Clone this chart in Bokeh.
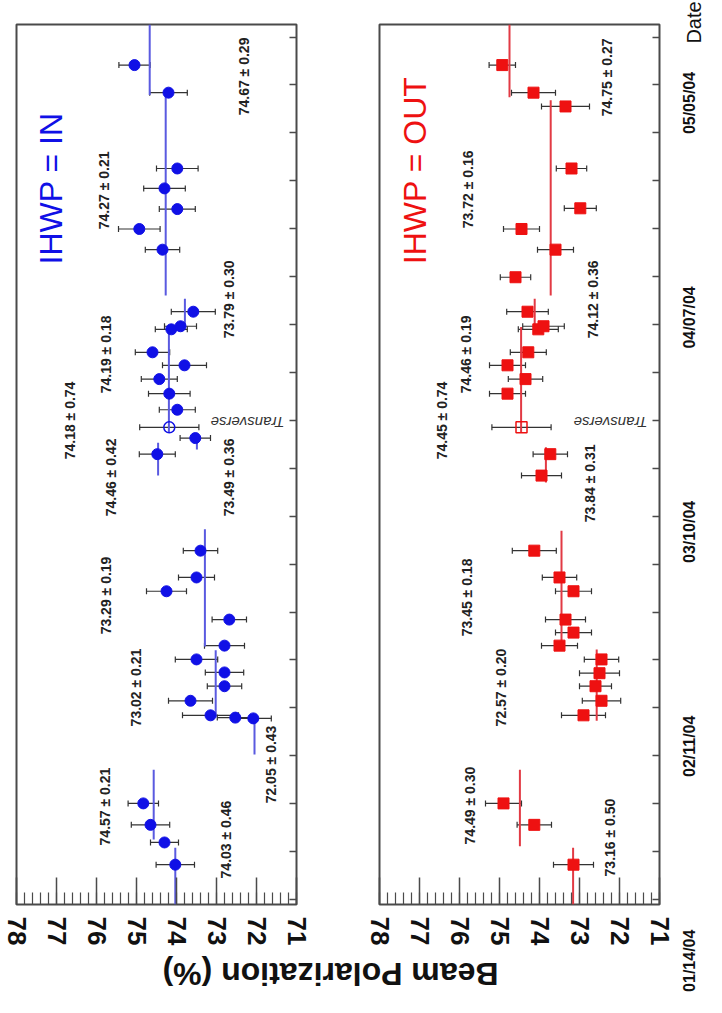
import numpy as np
import pandas as pd
from bokeh.plotting import figure
from bokeh.models import (Range1d, LinearAxis, SingleIntervalTicker, FixedTicker,
                          ColumnDataSource, Whisker, TeeHead, CustomJSTickFormatter)
from bokeh.layouts import row, column
from bokeh.embed import file_html
from bokeh.resources import INLINE
from bokeh.core.properties import value

# ---------------- data ----------------
date_labels = ["01/14/04", "02/11/04", "03/10/04", "04/07/04", "05/05/04"]
origin = "2004-01-14"

# IHWP = IN : day (days since 01/14/04), beam polarization (%), error (%)
in_day = [13.2, 16.1, 18.4, 21.2, 32.3, 32.4, 32.7, 34.6, 36.5, 38.3, 40.0, 41.8,
          45.2, 48.9, 50.7, 54.2, 66.8, 68.9, 72.6, 74.7, 76.6, 78.4, 80.1, 83.1,
          83.5, 85.4, 93.5, 96.2, 98.8, 101.5, 104.1, 114.0, 117.6]
in_pol = [74.03, 74.30, 74.65, 74.83, 72.08, 72.53, 73.15, 73.65, 72.80, 72.80, 73.50, 72.80,
          72.68, 74.25, 73.50, 73.40, 74.48, 73.53, 73.98, 74.18, 74.43, 73.80, 74.60, 74.13,
          73.90, 73.58, 74.35, 74.93, 73.98, 74.30, 73.98, 74.20, 75.05]
in_err = [0.48, 0.35, 0.48, 0.38, 0.45, 0.45, 0.70, 0.55, 0.43, 0.48, 0.53, 0.50,
          0.43, 0.50, 0.45, 0.43, 0.45, 0.38, 0.45, 0.52, 0.45, 0.55, 0.43, 0.40,
          0.40, 0.55, 0.43, 0.52, 0.45, 0.52, 0.52, 0.47, 0.39]
in_tr_day = [70.3]
in_tr_pol = [74.18]
in_tr_err = [0.74]
in_fit_mean = [74.03, 74.57, 72.05, 73.02, 73.29, 74.46, 73.49, 74.19, 73.79, 74.27, 74.67]
in_fit_err = [0.46, 0.21, 0.43, 0.21, 0.19, 0.42, 0.36, 0.18, 0.30, 0.21, 0.29]
in_fit_start = [8.0, 16.5, 27.6, 32.4, 41.7, 64.0, 67.4, 69.6, 83.4, 87.5, 113.7]
in_fit_end = [15.4, 25.6, 32.4, 41.2, 57.0, 68.3, 69.6, 83.4, 87.1, 113.7, 122.9]

# IHWP = OUT
out_day = [13.2, 18.4, 21.2, 32.7, 34.6, 36.5, 38.2, 40.0, 41.8, 43.5, 45.2, 48.9,
           50.7, 54.2, 64.0, 66.8, 74.7, 76.6, 78.4, 80.1, 83.1, 83.5, 85.4, 89.9,
           93.5, 96.2, 98.9, 104.1, 112.2, 114.0, 117.6]
out_pol = [73.15, 74.13, 74.90, 72.90, 72.45, 72.60, 72.50, 72.45, 73.50, 73.15, 73.35, 73.15,
           73.50, 74.13, 73.95, 73.73, 74.80, 74.35, 74.80, 74.28, 74.03, 73.90, 74.30, 74.60,
           73.60, 74.45, 72.98, 73.20, 73.35, 74.15, 74.93]
out_err = [0.50, 0.43, 0.45, 0.55, 0.48, 0.40, 0.50, 0.43, 0.45, 0.45, 0.50, 0.45,
           0.43, 0.55, 0.50, 0.43, 0.45, 0.43, 0.45, 0.45, 0.50, 0.52, 0.52, 0.38,
           0.45, 0.45, 0.40, 0.38, 0.60, 0.55, 0.33]
out_tr_day = [70.3]
out_tr_pol = [74.45]
out_tr_err = [0.74]
out_fit_mean = [73.16, 74.49, 72.57, 73.45, 73.84, 74.46, 74.12, 73.72, 74.75]
out_fit_err = [0.50, 0.30, 0.20, 0.18, 0.31, 0.19, 0.36, 0.16, 0.27]
out_fit_start = [8.0, 15.6, 32.0, 41.6, 63.1, 69.6, 83.4, 87.5, 113.4]
out_fit_end = [15.4, 25.6, 41.3, 56.8, 67.7, 83.4, 87.1, 113.0, 122.9]

# annotation positions (polarization, day) -- layout only
in_lab_x = [72.775, 75.80, 71.65, 75.025, 75.775, 75.65, 72.70, 75.775, 72.70, 75.825, 72.325]
in_lab_y = [16.48, 20.79, 26.28, 36.33, 48.35, 63.76, 63.76, 79.82, 87.01, 101.24, 116.12]
in_tr_lab = (76.675, 71.2)
out_lab_x = [72.25, 75.75, 74.975, 75.825, 72.75, 75.85, 72.675, 75.80, 72.325]
out_lab_y = [16.74, 20.92, 36.33, 48.09, 62.99, 79.82, 87.01, 101.37, 116.0]
out_tr_lab = (76.45, 71.2)

# ---------------- layout constants ----------------
D_LO, D_HI = 8.0, 122.9
FRAME_W, FRAME_H = 280, 880
TOP, PANEL_H, STRIP_H = 24, 955, 37
DATE_W = 30
FONT = "Liberation Sans"
FRAME_COL = "#4a4a4a"
tick_days = list(8.65 + 6.256 * np.arange(19))


def fmt(m, e):
    return f"{m:.2f} \u00b1 {e:.2f}"


def no_grid(f):
    f.xgrid.visible = False
    f.ygrid.visible = False


def bare_fig(width, height, xr, yr):
    f = figure(width=width, height=height, x_range=xr, y_range=yr,
               output_backend="svg", toolbar_location=None, x_axis_location=None,
               y_axis_location=None, title=None, min_border=0,
               min_border_left=0, min_border_right=0, min_border_top=0,
               min_border_bottom=0)
    f.outline_line_color = None
    no_grid(f)
    return f


def make_panel(width, bl, br, day, pol, err, tr_day, tr_pol, tr_err,
               fm, fe, fs, fend, lab_x, lab_y, tr_lab, color, line_color,
               marker, title, title_pos):
    p = figure(width=width, height=PANEL_H, x_range=Range1d(78, 71),
               y_range=Range1d(D_LO, D_HI), output_backend="svg",
               toolbar_location=None, x_axis_location=None, y_axis_location=None,
               title=None, min_border_left=bl, min_border_right=br,
               min_border_top=TOP, min_border_bottom=PANEL_H - TOP - FRAME_H)
    no_grid(p)
    p.outline_line_color = FRAME_COL
    p.outline_line_width = 2

    xa = LinearAxis(ticker=SingleIntervalTicker(interval=1, num_minor_ticks=5))
    xa.major_label_orientation = "vertical"
    xa.major_tick_in = 27
    xa.major_tick_out = 0
    xa.minor_tick_in = 12
    xa.minor_tick_out = 0
    xa.major_label_standoff = 12
    xa.axis_line_color = None
    xa.major_tick_line_color = FRAME_COL
    xa.minor_tick_line_color = FRAME_COL
    xa.major_tick_line_width = 1.5
    xa.minor_tick_line_width = 1.2
    xa.major_label_text_font = FONT
    xa.major_label_text_font_style = "bold"
    xa.major_label_text_font_size = "26px"
    xa.major_label_text_color = "#111111"
    p.add_layout(xa, "below")

    ya = LinearAxis(ticker=FixedTicker(ticks=tick_days),
                    formatter=CustomJSTickFormatter(code="return ''"))
    ya.major_tick_in = 7
    ya.major_tick_out = 0
    ya.minor_tick_line_color = None
    ya.axis_line_color = None
    ya.major_tick_line_color = FRAME_COL
    ya.major_tick_line_width = 1.5
    ya.major_label_standoff = 0
    p.add_layout(ya, "right")

    fsrc = ColumnDataSource(dict(m=fm, s=fs, e=fend))
    p.segment(x0="m", y0="s", x1="m", y1="e", source=fsrc,
              line_color=line_color, line_width=2)

    pol_a = np.array(pol); err_a = np.array(err)
    src = ColumnDataSource(dict(d=day, p=pol, lo=pol_a - err_a, hi=pol_a + err_a))
    tp = np.array(tr_pol); te = np.array(tr_err)
    tsrc = ColumnDataSource(dict(d=tr_day, p=tr_pol, lo=tp - te, hi=tp + te))
    for s in (src, tsrc):
        w = Whisker(source=s, base="d", lower="lo", upper="hi", dimension="width",
                    line_color="#333333", line_width=1.2,
                    lower_head=TeeHead(size=6, line_color="#333333", line_width=1.2),
                    upper_head=TeeHead(size=6, line_color="#333333", line_width=1.2))
        p.add_layout(w)

    p.scatter(x="p", y="d", source=src, marker=marker, size=11,
              fill_color=color, line_color=color)
    p.scatter(x="p", y="d", source=tsrc, marker=marker, size=11,
              fill_color=None, line_color=color, line_width=1.5)

    texts = [fmt(m, e) for m, e in zip(fm, fe)] + [fmt(tr_pol[0], tr_err[0])]
    lsrc = ColumnDataSource(dict(x=list(lab_x) + [tr_lab[0]],
                                 y=list(lab_y) + [tr_lab[1]], t=texts))
    p.text(x="x", y="y", text="t", source=lsrc, angle=np.pi / 2,
           text_align="center", text_baseline="middle",
           text_font=value(FONT), text_font_style="bold",
           text_font_size="14px", text_color="#222222")

    p.text(x=[title_pos[0]], y=[title_pos[1]], text=[title], angle=np.pi / 2,
           text_align="center", text_baseline="middle", text_font=value(FONT),
           text_font_size="32px", text_color=color)

    p.text(x=[72.225], y=[70.94], text=["Transverse"], angle=np.pi,
           text_align="center", text_baseline="middle", text_font=value(FONT),
           text_font_style="italic", text_font_size="15px", text_color="#333333")
    return p


left = make_panel(337, 16, 41, in_day, in_pol, in_err, in_tr_day, in_tr_pol, in_tr_err,
                  in_fit_mean, in_fit_err, in_fit_start, in_fit_end,
                  in_lab_x, in_lab_y, in_tr_lab, "#1010e6", "#5a5ae0", "circle",
                  "IHWP = IN", (77.15, 101.5))
right = make_panel(337, 42, 15, out_day, out_pol, out_err, out_tr_day, out_tr_pol, out_tr_err,
                   out_fit_mean, out_fit_err, out_fit_start, out_fit_end,
                   out_lab_x, out_lab_y, out_tr_lab, "#ee1111", "#e23a44", "square",
                   "IHWP = OUT", (77.125, 103.85))

# title strip (spans both panels)
title_fig = bare_fig(674, STRIP_H, Range1d(0, 674), Range1d(0, STRIP_H))
title_fig.text(x=[330], y=[STRIP_H - 18], text=["Beam Polarization (%)"], angle=np.pi,
               text_align="center", text_baseline="middle", text_font=value(FONT),
               text_font_style="bold", text_font_size="32px", text_color="#111111")

# date label column, same day scale as the panels
K = FRAME_H / (D_HI - D_LO)
TOTAL_H = PANEL_H + STRIP_H
date_fig = bare_fig(DATE_W, TOTAL_H, Range1d(0, DATE_W),
                    Range1d(D_LO - (TOTAL_H - TOP - FRAME_H) / K, D_HI + TOP / K))
label_days = list((pd.to_datetime(date_labels, format="%m/%d/%y") - pd.Timestamp(origin)).days)
date_fig.text(x=[15] * len(date_labels), y=label_days, text=date_labels, angle=np.pi / 2,
              text_align="center", text_baseline="middle", text_font=value(FONT),
              text_font_style="bold", text_font_size="16px", text_color="#111111",
              y_offset=-5)
date_fig.text(x=[19.5], y=[D_HI + 2 / K], text=["Date"], angle=np.pi / 2,
              text_align="center", text_baseline="middle", text_font=value(FONT),
              text_font_size="20px", text_color="#111111")

layout = row(column(row(left, right), title_fig), date_fig)
open("out.html", "w").write(file_html(layout, INLINE))
